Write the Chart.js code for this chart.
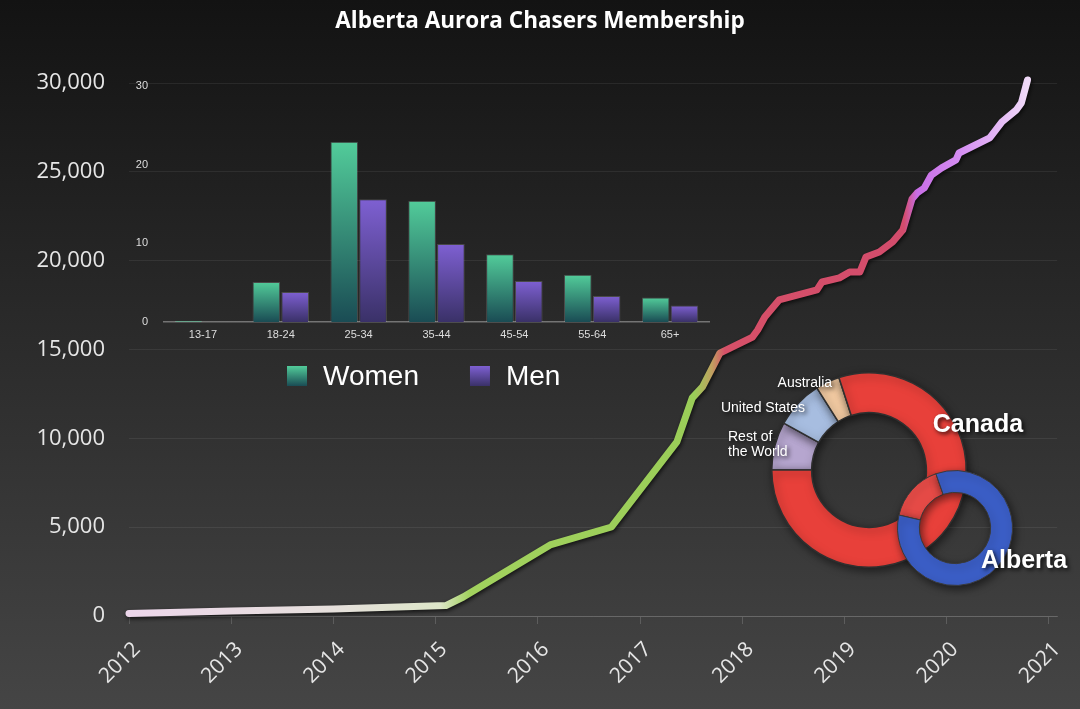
<!DOCTYPE html>
<html>
<head>
<meta charset="utf-8">
<title>Alberta Aurora Chasers Membership</title>
<script src="https://cdn.jsdelivr.net/npm/chart.js@4.4.1/dist/chart.umd.min.js"></script>
<style>
  html, body { margin: 0; padding: 0; background: #2b2b2b; }
  #wrap { position: relative; width: 1080px; height: 709px; overflow: hidden; }
  #wrap canvas { position: absolute; }
  #membership { left: 0; top: 0; }
  #ages { left: 130px; top: 70px; }
  #countries { left: 710px; top: 360px; }
  #alberta { left: 890px; top: 462px; }
</style>
</head>
<body>
<div id="wrap">
  <canvas id="membership" width="1080" height="709"></canvas>
  <canvas id="ages" width="600" height="330"></canvas>
  <canvas id="countries" width="330" height="220"></canvas>
  <canvas id="alberta" width="185" height="135"></canvas>
</div>
<script>
// membership over time (decimal years)
const years = [2012.0, 2013.0, 2014.0, 2015.1, 2015.27, 2016.12, 2016.72, 2017.36, 2017.51, 2017.61,
    2017.78, 2018.0, 2018.1, 2018.15, 2018.22, 2018.36, 2018.73, 2018.78, 2018.95, 2019.05,
    2019.15, 2019.21, 2019.34, 2019.47, 2019.57, 2019.66, 2019.71, 2019.78, 2019.85, 2019.95,
    2020.09, 2020.12, 2020.42, 2020.48, 2020.54, 2020.68, 2020.73, 2020.79];
const members = [140, 280, 400, 590, 1070, 4000, 5010, 9800, 12270, 12890,
    14800, 15420, 15700, 16100, 16830, 17790, 18350, 18800, 19030, 19360,
    19360, 20210, 20490, 21050, 21730, 23470, 23810, 24090, 24820, 25220,
    25670, 26060, 26910, 27360, 27810, 28480, 28880, 30170];
const yearTicks = [2012, 2013, 2014, 2015, 2016, 2017, 2018, 2019, 2020, 2021];
const memberTicks = [0, 5000, 10000, 15000, 20000, 25000, 30000];

// age groups
const ageGroups = ["13-17", "18-24", "25-34", "35-44", "45-54", "55-64", "65+"];
const women = [0.15, 5.1, 22.9, 15.4, 8.6, 6.0, 3.1];
const men = [0, 3.8, 15.6, 9.9, 5.2, 3.3, 2.1];
const ageTicks = [0, 10, 20, 30];

// where members live
const countries = ["Rest of the World", "United States", "Australia", "Canada"];
const countryShare = [8, 8, 4, 80];
const provinces = ["Rest of Canada", "Alberta"];
const provinceShare = [16, 84];

const backdrop = {
    id: "backdrop",
    beforeDraw(chart) {
        const ctx = chart.ctx;
        const g = ctx.createLinearGradient(0, 0, 0, chart.height);
        g.addColorStop(0, "#131313");
        g.addColorStop(1, "#454545");
        ctx.save();
        ctx.fillStyle = g;
        ctx.fillRect(0, 0, chart.width, chart.height);
        ctx.restore();
    }
};

const shadow = {
    id: "shadow",
    beforeDatasetDraw(chart, args, opts) {
        const ctx = chart.ctx;
        ctx.save();
        ctx.shadowColor = opts.color || "rgba(0,0,0,0.6)";
        ctx.shadowBlur = opts.blur || 4;
        ctx.shadowOffsetX = opts.x || 1;
        ctx.shadowOffsetY = opts.y || 2;
    },
    afterDatasetDraw(chart) {
        chart.ctx.restore();
    }
};

function lineColour(c) {
    const { ctx, chartArea } = c.chart;
    if (!chartArea) return "#9acd58";
    const g = ctx.createLinearGradient(chartArea.left, 0, chartArea.right, 0);
    g.addColorStop(0, "#ecd6ea");
    g.addColorStop(0.22, "#e6e0dc");
    g.addColorStop(0.335, "#dde6c8");
    g.addColorStop(0.367, "#a2d25e");
    g.addColorStop(0.609, "#9acd58");
    g.addColorStop(0.628, "#c0a060");
    g.addColorStop(0.642, "#d65068");
    g.addColorStop(0.835, "#d24c6c");
    g.addColorStop(0.849, "#c86ee6");
    g.addColorStop(0.894, "#d48cf2");
    g.addColorStop(0.968, "#f0daf8");
    return g;
}

new Chart(document.getElementById("membership"), {
    type: "line",
    data: {
        datasets: [
            {
                data: years.map((x, i) => ({ x: x, y: members[i] })),
                borderColor: lineColour,
                borderWidth: 7,
                borderCapStyle: "round",
                borderJoinStyle: "round",
                pointRadius: 0,
                tension: 0,
                fill: false,
                clip: false
            }
        ]
    },
    options: {
        responsive: false,
        animation: false,
        events: [],
        layout: { padding: { left: 11, right: 11, top: 0, bottom: 0 } },
        plugins: {
            legend: { display: false },
            tooltip: { enabled: false },
            shadow: { color: "rgba(0,0,0,0.7)", blur: 4, x: 1, y: 2 },
            title: {
                display: true,
                text: "Alberta Aurora Chasers Membership",
                color: "#ffffff",
                font: { family: "'Open Sans'", size: 22.5, weight: "bold" },
                padding: { top: 8, bottom: 48 }
            }
        },
        scales: {
            x: {
                type: "linear",
                min: 2012,
                max: 2021.08,
                afterBuildTicks: a => { a.ticks = yearTicks.map(v => ({ value: v })); },
                afterFit: a => { a.height = 93; },
                grid: { drawOnChartArea: false, color: "rgba(255,255,255,0.16)", tickLength: 8 },
                border: { color: "rgba(255,255,255,0.16)" },
                ticks: {
                    color: "#e6e6e6",
                    font: { family: "'Open Sans'", size: 21 },
                    minRotation: 45,
                    maxRotation: 45,
                    padding: 13,
                    labelOffset: 8,
                    autoSkip: false,
                    callback: v => String(v)
                }
            },
            y: {
                min: 0,
                max: 30000,
                afterBuildTicks: a => { a.ticks = memberTicks.map(v => ({ value: v })); },
                afterFit: a => { a.width = 118; },
                grid: { color: "rgba(255,255,255,0.07)", drawTicks: false },
                border: { display: false },
                ticks: {
                    color: "#e6e6e6",
                    font: { family: "'Open Sans'", size: 22 },
                    padding: 24,
                    callback: v => v.toLocaleString("en-US")
                }
            },
            // empty right-hand strip so the title stays centred on the page
            spacer: {
                position: "right",
                afterFit: a => { a.width = 11; },
                grid: { display: false },
                border: { display: false },
                ticks: { display: false }
            }
        }
    },
    plugins: [backdrop, shadow]
});

function barFill(c, top, bottom) {
    const chart = c.chart;
    if (!chart.chartArea || c.type !== "data") return bottom;
    const ys = chart.scales.y;
    const y1 = ys.getPixelForValue(c.parsed.y);
    const y0 = ys.getPixelForValue(0);
    if (y0 - y1 < 2) return top;
    const g = chart.ctx.createLinearGradient(0, y1, 0, y0);
    g.addColorStop(0, top);
    g.addColorStop(1, bottom);
    return g;
}

const womenTop = "#52cc9a", womenBottom = "#1a4c54";
const menTop = "#7e60d2", menBottom = "#3a3168";

const ageLegend = {
    id: "ageLegend",
    afterDraw(chart) {
        const ctx = chart.ctx;
        const area = chart.chartArea;
        const cy = area.bottom + 54;
        let x = area.left + 123;
        ctx.save();
        ctx.font = "28px 'Liberation Sans'";
        ctx.textBaseline = "middle";
        chart.data.datasets.forEach(ds => {
            const g = ctx.createLinearGradient(0, cy - 10, 0, cy + 10);
            g.addColorStop(0, ds.legendTop);
            g.addColorStop(1, ds.legendBottom);
            ctx.fillStyle = g;
            ctx.fillRect(x, cy - 10, 20, 20);
            ctx.fillStyle = "#ffffff";
            ctx.fillText(ds.label, x + 36, cy + 1);
            x += 36 + ctx.measureText(ds.label).width + 51;
        });
        ctx.restore();
    }
};

new Chart(document.getElementById("ages"), {
    type: "bar",
    data: {
        labels: ageGroups,
        datasets: [
            {
                label: "Women",
                data: women,
                backgroundColor: c => barFill(c, womenTop, womenBottom),
                borderColor: "rgba(255,255,255,0.16)",
                borderWidth: 1,
                legendTop: womenTop,
                legendBottom: womenBottom
            },
            {
                label: "Men",
                data: men,
                backgroundColor: c => barFill(c, menTop, menBottom),
                borderColor: "rgba(255,255,255,0.16)",
                borderWidth: 1,
                legendTop: menTop,
                legendBottom: menBottom
            }
        ]
    },
    options: {
        responsive: false,
        animation: false,
        events: [],
        categoryPercentage: 0.74,
        barPercentage: 0.96,
        layout: { padding: { left: 0, right: 21, top: 16, bottom: 54 } },
        plugins: {
            legend: { display: false },
            tooltip: { enabled: false }
        },
        scales: {
            x: {
                afterFit: a => { a.height = 24; },
                grid: { drawOnChartArea: false, drawTicks: false },
                border: { color: "rgba(255,255,255,0.35)", width: 1.5 },
                ticks: { color: "#dddddd", font: { family: "'Liberation Sans'", size: 11 }, padding: 6 }
            },
            y: {
                min: 0,
                max: 30,
                afterBuildTicks: a => { a.ticks = ageTicks.map(v => ({ value: v })); },
                afterFit: a => { a.width = 34; },
                grid: { display: false },
                border: { display: false },
                ticks: { color: "#dddddd", font: { family: "'Liberation Sans'", size: 11 }, padding: 8 }
            }
        }
    },
    plugins: [ageLegend]
});

const ringLabels = {
    id: "ringLabels",
    afterDatasetsDraw(chart, args, opts) {
        const arc = chart.getDatasetMeta(0).data[0];
        const r = arc.outerRadius;
        const ctx = chart.ctx;
        ctx.save();
        ctx.fillStyle = "#ffffff";
        ctx.shadowColor = "rgba(0,0,0,0.8)";
        ctx.shadowBlur = 4;
        ctx.shadowOffsetX = 2;
        ctx.shadowOffsetY = 2;
        ctx.textBaseline = "middle";
        opts.items.forEach(it => {
            ctx.font = it.font;
            ctx.textAlign = it.align || "center";
            it.lines.forEach((line, i) => {
                ctx.fillText(line, arc.x + it.dx * r, arc.y + it.dy * r + i * 15);
            });
        });
        ctx.restore();
    }
};

new Chart(document.getElementById("countries"), {
    type: "doughnut",
    data: {
        labels: countries,
        datasets: [
            {
                data: countryShare,
                backgroundColor: ["#b6a6cf", "#a7bde0", "#f1c9a1", "#e8403a"],
                borderColor: "#303030",
                borderWidth: 1.5
            }
        ]
    },
    options: {
        responsive: false,
        animation: false,
        events: [],
        rotation: -90,
        cutout: "59%",
        layout: { padding: { left: 61, right: 73, top: 12, bottom: 12 } },
        plugins: {
            legend: { display: false },
            tooltip: { enabled: false },
            shadow: { color: "rgba(0,0,0,0.5)", blur: 8, x: 2, y: 3 },
            ringLabels: {
                items: [
                    { lines: ["Canada"], dx: 1.12, dy: -0.46, font: "bold 25px 'Liberation Sans'" },
                    { lines: ["Australia"], dx: -0.66, dy: -0.89, font: "14px 'Liberation Sans'" },
                    { lines: ["United States"], dx: -1.09, dy: -0.64, font: "14px 'Liberation Sans'" },
                    { lines: ["Rest of", "the World"], dx: -1.45, dy: -0.34, font: "14px 'Liberation Sans'", align: "left" }
                ]
            }
        }
    },
    plugins: [shadow, ringLabels]
});

new Chart(document.getElementById("alberta"), {
    type: "doughnut",
    data: {
        labels: provinces,
        datasets: [
            {
                data: provinceShare,
                backgroundColor: ["#e64b47", "#3b5ec6"],
                borderColor: "#3a3a3a",
                borderWidth: 1
            }
        ]
    },
    options: {
        responsive: false,
        animation: false,
        events: [],
        rotation: -77,
        cutout: "62%",
        layout: { padding: { left: 7, right: 62, top: 8, bottom: 11 } },
        plugins: {
            legend: { display: false },
            tooltip: { enabled: false },
            shadow: { color: "rgba(0,0,0,0.55)", blur: 8, x: 2, y: 3 },
            ringLabels: {
                items: [
                    { lines: ["Alberta"], dx: 1.2, dy: 0.57, font: "bold 25px 'Liberation Sans'" }
                ]
            }
        }
    },
    plugins: [shadow, ringLabels]
});
</script>
</body>
</html>
